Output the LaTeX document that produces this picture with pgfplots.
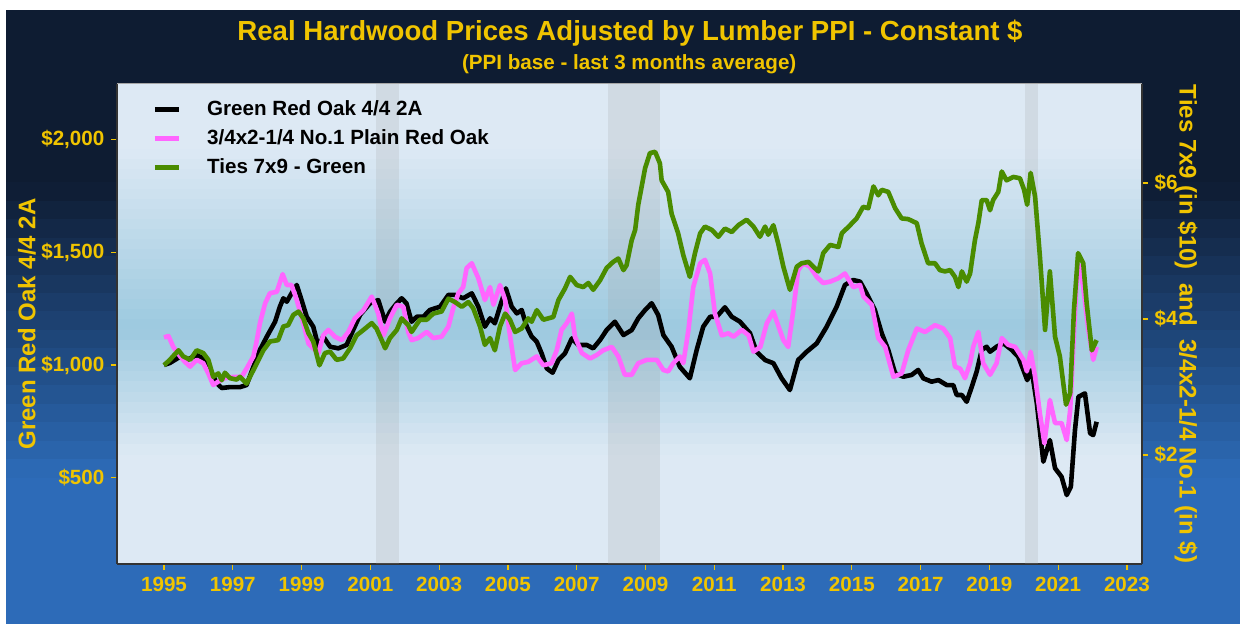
\documentclass[border=0pt]{standalone}
\usepackage{pgfplots}
\pgfplotsset{compat=1.18}
\usepackage{fontspec}
\setmainfont{Liberation Sans}
\definecolor{gold}{RGB}{240,196,0}
\definecolor{navyA}{RGB}{14,28,50}
\definecolor{navyB}{RGB}{45,107,184}
\definecolor{paneL}{RGB}{221,233,244}
\definecolor{paneD}{RGB}{156,201,223}
\definecolor{pinkline}{RGB}{255,102,255}
\definecolor{greenline}{RGB}{74,140,0}
\definecolor{recgray}{RGB}{160,160,160}
\begin{document}
\begin{tikzpicture}
% canvas
\fill[white] (0pt,0pt) rectangle (620pt,312pt);
\fill[navyA] (3pt,0pt) rectangle (620pt,307pt);
\foreach \i in {0,...,15}{
  \pgfmathsetmacro{\p}{(\i+0.5)/16*100}
  \pgfmathsetmacro{\ytop}{220.5-\i*9.21875+0.3}
  \pgfmathsetmacro{\ybot}{220.5-(\i+1)*9.21875}
  \fill[navyB!\p!navyA] (3pt,\ybot pt) rectangle (620pt,\ytop pt);
}
\fill[navyB] (3pt,0pt) rectangle (620pt,73.2pt);
% plot panel background
\fill[paneL] (58.5pt,30pt) rectangle (571pt,270pt);
\foreach \i in {0,...,17}{
  \pgfmathsetmacro{\p}{(\i+0.5)/18*100}
  \pgfmathsetmacro{\ytop}{237-\i*5+0.3}
  \pgfmathsetmacro{\ybot}{237-(\i+1)*5}
  \fill[paneD!\p!paneL] (58.5pt,\ybot pt) rectangle (571pt,\ytop pt);
}
\foreach \i in {0,...,11}{
  \pgfmathsetmacro{\p}{100-(\i+0.5)/12*100}
  \pgfmathsetmacro{\ytop}{147-\i*5.2+0.3}
  \pgfmathsetmacro{\ybot}{147-(\i+1)*5.2}
  \fill[paneD!\p!paneL] (58.5pt,\ybot pt) rectangle (571pt,\ytop pt);
}
\draw[black!35, line width=0.5pt] (58.5pt,270pt) -- (571pt,270pt);
% titles
\node[anchor=base, font=\bfseries\fontsize{13.8}{16}\selectfont, text=gold] at (315pt,291.6pt) {Real Hardwood Prices Adjusted by Lumber PPI - Constant \$};
\node[anchor=base, font=\bfseries\fontsize{10.3}{12}\selectfont, text=gold] at (314.6pt,277pt) {(PPI base - last 3 months average)};

\begin{axis}[
  at={(58.5pt,30pt)}, anchor=south west,
  scale only axis, width=512.5pt, height=240pt,
  xmin=1993.633, xmax=2023.439, ymin=117, ymax=2247,
  axis x line*=bottom, axis y line*=left,
  axis line style={-, draw=black!80, line width=0.8pt},
  xtick={1995,1997,1999,2001,2003,2005,2007,2009,2011,2013,2015,2017,2019,2021,2023},
  xticklabels={1995,1997,1999,2001,2003,2005,2007,2009,2011,2013,2015,2017,2019,2021,2023},
  ytick={500,1000,1500,2000},
  yticklabels={{\$500},{\$1,000},{\$1,500},{\$2,000}},
  tick align=outside, major tick length=2.8pt,
  tick style={draw=gold, line width=0.6pt},
  tick label style={font=\bfseries\fontsize{10.3}{12}\selectfont, text=gold},
  every axis y label/.style={at={(axis description cs:-0.0878,0.5)}, anchor=center, rotate=90},
  ylabel={Green Red Oak 4/4 2A},
  ylabel style={font=\bfseries\fontsize{12}{14}\selectfont, text=gold},
]
\fill[recgray, opacity=0.2] (axis cs:2001.17,117) rectangle (axis cs:2001.83,2247);
\fill[recgray, opacity=0.2] (axis cs:2007.92,117) rectangle (axis cs:2009.42,2247);
\fill[recgray, opacity=0.2] (axis cs:2020.04,117) rectangle (axis cs:2020.40,2247);
\addplot[black, line width=2.3pt, line join=round] coordinates {
(1995.00,1000) (1995.17,1009) (1995.47,1037) (1995.66,1022) (1995.95,1044) (1996.24,1022) (1996.39,965) (1996.53,920) (1996.68,898) (1996.92,902) (1997.21,902) (1997.40,911) (1997.60,992) (1997.79,1067) (1997.99,1126) (1998.23,1192) (1998.37,1259) (1998.47,1296) (1998.57,1281) (1998.71,1318) (1998.86,1355) (1999.00,1288) (1999.15,1214) (1999.34,1170) (1999.49,1081) (1999.63,1126) (1999.83,1081) (2000.07,1074) (2000.31,1089) (2000.50,1155) (2000.70,1222) (2000.99,1274) (2001.23,1288) (2001.43,1192) (2001.57,1236) (2001.77,1274) (2001.91,1296) (2002.05,1274) (2002.20,1192) (2002.35,1214) (2002.54,1214) (2002.73,1244) (2003.03,1259) (2003.27,1311) (2003.46,1311) (2003.70,1296) (2003.95,1318) (2004.14,1259) (2004.33,1170) (2004.48,1207) (2004.62,1185) (2004.77,1259) (2004.94,1340) (2005.11,1259) (2005.26,1229) (2005.40,1244) (2005.55,1170) (2005.69,1126) (2005.84,1103) (2005.98,1052) (2006.13,985) (2006.30,966) (2006.47,1022) (2006.66,1052) (2006.86,1118) (2007.05,1089) (2007.29,1089) (2007.48,1074) (2007.68,1111) (2007.87,1155) (2008.11,1192) (2008.36,1133) (2008.60,1155) (2008.79,1207) (2008.99,1244) (2009.18,1274) (2009.37,1222) (2009.52,1133) (2009.76,1081) (2010.00,992) (2010.29,941) (2010.49,1067) (2010.68,1170) (2010.88,1214) (2011.07,1214) (2011.31,1256) (2011.51,1214) (2011.75,1192) (2012.04,1141) (2012.23,1059) (2012.48,1022) (2012.72,1008) (2012.96,941) (2013.20,889) (2013.44,1022) (2013.69,1059) (2013.98,1096) (2014.27,1170) (2014.56,1259) (2014.80,1355) (2015.04,1377) (2015.24,1370) (2015.43,1318) (2015.67,1244) (2015.87,1141) (2016.06,1067) (2016.26,963) (2016.50,948) (2016.74,956) (2016.93,978) (2017.08,941) (2017.32,926) (2017.52,933) (2017.76,911) (2017.95,911) (2018.05,867) (2018.20,867) (2018.34,837) (2018.49,904) (2018.63,970) (2018.78,1067) (2018.92,1081) (2019.02,1059) (2019.21,1081) (2019.41,1096) (2019.65,1067) (2019.84,1037) (2019.99,978) (2020.10,933) (2020.23,978) (2020.38,830) (2020.57,571) (2020.76,667) (2020.91,542) (2021.10,504) (2021.25,423) (2021.37,460) (2021.49,712) (2021.59,859) (2021.78,874) (2021.93,697) (2022.02,689) (2022.12,748)
};
\end{axis}

\begin{axis}[
  at={(58.5pt,30pt)}, anchor=south west,
  scale only axis, width=512.5pt, height=240pt,
  xmin=1993.633, xmax=2023.439, ymin=0.397, ymax=7.457,
  axis x line=none, axis y line*=right,
  axis line style={-, draw=black!80, line width=0.8pt},
  ytick={2,4,6}, yticklabels={{\$2},{\$4},{\$6}},
  tick align=outside, major tick length=2.8pt,
  tick style={draw=gold, line width=0.6pt},
  tick label style={font=\bfseries\fontsize{10.3}{12}\selectfont, text=gold},
  every axis y label/.style={at={(axis description cs:1.0429,0.5)}, anchor=center, rotate=-90},
  ylabel={Ties 7x9 (in \$10)\ \ and\ \ 3/4x2-1/4 No.1 (in \$)},
  ylabel style={font=\bfseries\fontsize{12}{14}\selectfont, text=gold},
  legend style={at={(axis description cs:0.0341,0.975)}, anchor=north west, draw=none, fill=none,
    font=\bfseries\fontsize{10.3}{12.4}\selectfont, text=black, row sep=1.55pt, inner sep=0pt,
    /tikz/every odd column/.append style={column sep=11pt}},
  legend cell align=left,
  legend image code/.code={\draw[#1, line width=2.4pt] (0pt,0pt) -- (12pt,0pt);},
]
\addlegendimage{black}
\addlegendentry{Green Red Oak 4/4 2A}
\addplot[pinkline, line width=2.3pt, line join=round] coordinates {
(1995.00,3.73) (1995.13,3.75) (1995.27,3.59) (1995.47,3.45) (1995.61,3.37) (1995.76,3.30) (1995.95,3.40) (1996.14,3.35) (1996.29,3.20) (1996.43,3.03) (1996.58,3.08) (1996.77,3.13) (1997.02,3.15) (1997.26,3.15) (1997.40,3.27) (1997.60,3.45) (1997.70,3.69) (1997.79,3.94) (1997.94,4.23) (1998.08,4.38) (1998.28,4.40) (1998.45,4.66) (1998.57,4.50) (1998.71,4.50) (1998.86,4.28) (1999.05,3.94) (1999.20,3.64) (1999.34,3.57) (1999.49,3.50) (1999.63,3.76) (1999.78,3.84) (1999.97,3.74) (2000.17,3.69) (2000.36,3.81) (2000.55,4.01) (2000.80,4.13) (2001.04,4.33) (2001.23,4.08) (2001.38,3.76) (2001.57,4.01) (2001.77,4.21) (2001.96,4.18) (2002.10,3.81) (2002.20,3.69) (2002.39,3.72) (2002.64,3.81) (2002.83,3.72) (2003.07,3.74) (2003.27,3.89) (2003.41,4.16) (2003.56,4.38) (2003.70,4.47) (2003.80,4.75) (2003.95,4.82) (2004.14,4.60) (2004.33,4.28) (2004.48,4.47) (2004.58,4.21) (2004.77,4.50) (2004.92,4.28) (2005.06,3.76) (2005.21,3.25) (2005.40,3.35) (2005.59,3.37) (2005.84,3.45) (2006.03,3.32) (2006.27,3.35) (2006.42,3.54) (2006.56,3.84) (2006.71,3.94) (2006.86,4.08) (2006.95,3.74) (2007.15,3.50) (2007.39,3.42) (2007.58,3.47) (2007.77,3.54) (2008.02,3.59) (2008.21,3.45) (2008.40,3.18) (2008.60,3.18) (2008.79,3.35) (2009.04,3.40) (2009.33,3.40) (2009.52,3.25) (2009.66,3.23) (2009.81,3.35) (2010.00,3.45) (2010.10,3.35) (2010.25,3.84) (2010.39,4.47) (2010.59,4.82) (2010.73,4.87) (2010.88,4.67) (2011.02,4.08) (2011.22,3.76) (2011.41,3.79) (2011.56,3.74) (2011.80,3.84) (2012.00,3.76) (2012.14,3.52) (2012.34,3.59) (2012.53,3.94) (2012.72,4.11) (2012.87,3.89) (2013.01,3.69) (2013.15,3.59) (2013.30,4.13) (2013.44,4.72) (2013.59,4.82) (2013.78,4.77) (2013.98,4.62) (2014.17,4.53) (2014.37,4.55) (2014.61,4.60) (2014.80,4.67) (2015.04,4.47) (2015.24,4.50) (2015.34,4.33) (2015.58,4.21) (2015.77,3.72) (2015.97,3.59) (2016.21,3.15) (2016.45,3.20) (2016.64,3.54) (2016.89,3.86) (2017.13,3.81) (2017.42,3.91) (2017.66,3.86) (2017.86,3.72) (2018.00,3.30) (2018.15,3.27) (2018.29,3.13) (2018.44,3.35) (2018.53,3.59) (2018.68,3.81) (2018.82,3.35) (2019.02,3.18) (2019.21,3.35) (2019.36,3.72) (2019.55,3.62) (2019.75,3.59) (2019.99,3.40) (2020.09,3.23) (2020.20,3.52) (2020.33,3.15) (2020.47,2.61) (2020.60,2.17) (2020.76,2.81) (2020.91,2.47) (2021.10,2.47) (2021.25,2.22) (2021.35,2.66) (2021.44,3.59) (2021.54,4.57) (2021.62,4.79) (2021.73,4.47) (2021.88,3.84) (2022.02,3.40) (2022.12,3.59)
};
\addlegendentry{3/4x2-1/4 No.1 Plain Red Oak}
\addplot[greenline, line width=2.3pt, line join=round] coordinates {
(1995.00,3.32) (1995.17,3.40) (1995.42,3.54) (1995.56,3.45) (1995.76,3.40) (1995.95,3.54) (1996.14,3.50) (1996.29,3.40) (1996.43,3.15) (1996.58,3.20) (1996.68,3.10) (1996.77,3.21) (1996.92,3.13) (1997.11,3.11) (1997.21,3.15) (1997.40,3.05) (1997.55,3.20) (1997.70,3.35) (1997.89,3.54) (1998.08,3.67) (1998.32,3.69) (1998.47,3.89) (1998.61,3.91) (1998.76,4.06) (1998.91,4.11) (1999.05,4.01) (1999.20,3.79) (1999.34,3.67) (1999.52,3.32) (1999.68,3.50) (1999.83,3.52) (2000.02,3.40) (2000.21,3.42) (2000.41,3.57) (2000.60,3.76) (2000.80,3.84) (2001.04,3.94) (2001.18,3.86) (2001.33,3.69) (2001.43,3.57) (2001.57,3.72) (2001.77,3.84) (2001.91,4.01) (2002.10,3.91) (2002.20,3.81) (2002.44,3.99) (2002.64,3.99) (2002.83,4.08) (2003.07,4.11) (2003.27,4.30) (2003.46,4.25) (2003.66,4.18) (2003.85,4.25) (2003.99,4.16) (2004.19,3.89) (2004.33,3.62) (2004.48,3.72) (2004.62,3.54) (2004.77,3.89) (2004.92,4.08) (2005.06,3.99) (2005.21,3.81) (2005.40,3.86) (2005.59,4.01) (2005.69,3.96) (2005.84,4.13) (2006.03,3.99) (2006.32,4.03) (2006.47,4.28) (2006.66,4.45) (2006.81,4.62) (2007.00,4.50) (2007.19,4.47) (2007.34,4.53) (2007.48,4.43) (2007.68,4.57) (2007.87,4.75) (2008.06,4.84) (2008.21,4.89) (2008.36,4.72) (2008.45,4.79) (2008.60,5.16) (2008.70,5.31) (2008.79,5.68) (2008.99,6.22) (2009.13,6.44) (2009.28,6.46) (2009.42,6.29) (2009.47,6.04) (2009.66,5.87) (2009.76,5.55) (2009.95,5.26) (2010.10,4.94) (2010.29,4.62) (2010.44,4.97) (2010.59,5.26) (2010.73,5.36) (2010.93,5.31) (2011.12,5.21) (2011.31,5.33) (2011.51,5.28) (2011.70,5.38) (2011.94,5.46) (2012.14,5.36) (2012.33,5.21) (2012.48,5.36) (2012.57,5.24) (2012.72,5.38) (2012.86,5.11) (2013.01,4.77) (2013.20,4.43) (2013.40,4.77) (2013.54,4.82) (2013.74,4.84) (2013.88,4.77) (2014.03,4.70) (2014.17,4.97) (2014.37,5.09) (2014.61,5.06) (2014.71,5.26) (2014.95,5.38) (2015.14,5.48) (2015.33,5.65) (2015.48,5.63) (2015.63,5.95) (2015.77,5.82) (2015.87,5.90) (2016.06,5.87) (2016.26,5.63) (2016.45,5.48) (2016.64,5.47) (2016.89,5.41) (2017.03,5.11) (2017.22,4.82) (2017.42,4.82) (2017.56,4.72) (2017.71,4.70) (2017.86,4.72) (2018.00,4.62) (2018.10,4.47) (2018.20,4.70) (2018.34,4.55) (2018.44,4.67) (2018.58,5.16) (2018.68,5.41) (2018.78,5.75) (2018.92,5.75) (2019.02,5.60) (2019.11,5.75) (2019.26,5.87) (2019.36,6.17) (2019.50,6.04) (2019.70,6.09) (2019.89,6.07) (2020.01,5.90) (2020.10,5.68) (2020.20,6.15) (2020.33,5.80) (2020.47,4.92) (2020.62,3.84) (2020.76,4.70) (2020.91,3.74) (2021.05,3.45) (2021.23,2.74) (2021.35,2.91) (2021.46,4.13) (2021.58,4.97) (2021.73,4.82) (2021.83,4.23) (2021.98,3.54) (2022.12,3.69)
};
\addlegendentry{Ties 7x9 - Green}
\end{axis}
\end{tikzpicture}
\end{document}
